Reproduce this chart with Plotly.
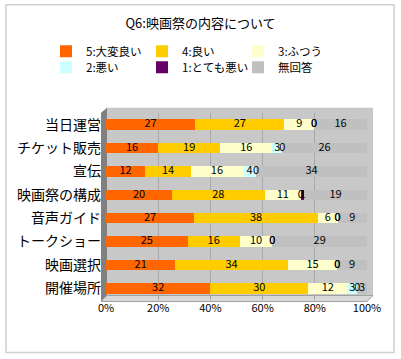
import plotly.graph_objects as go

categories = ["当日運営", "チケット販売", "宣伝", "映画祭の構成", "音声ガイド", "トークショー", "映画選択", "開催場所"]
series_names = ["5:大変良い", "4:良い", "3:ふつう", "2:悪い", "1:とても悪い", "無回答"]
v5 = [27, 16, 12, 20, 27, 25, 21, 32]
v4 = [27, 19, 14, 28, 38, 16, 34, 30]
v3 = [9, 16, 16, 11, 6, 10, 15, 12]
v2 = [0, 3, 4, 0, 0, 0, 0, 3]
v1 = [0, 0, 0, 1, 0, 0, 0, 0]
v0 = [16, 26, 34, 19, 9, 29, 9, 3]
colors = ["#FF6600", "#FFCC00", "#FFFFCC", "#CCFFFF", "#660066", "#C0C0C0"]
x_ticks = [0, 20, 40, 60, 80, 100]

FONT = "Noto Sans CJK JP"

# plot-area pixel geometry (for decorative shapes)
L, R, T, B = 106, 367, 113.3, 300.5
pw, ph = R - L, B - T
def px(x):
    return (x - L) / pw
def py(y):
    return (B - y) / ph

all_series = [v5, v4, v3, v2, v1, v0]
totals = [sum(s[i] for s in all_series) for i in range(len(categories))]

fig = go.Figure()
cum = [0] * len(categories)
for k, (name, vals, col) in enumerate(zip(series_names, all_series, colors)):
    fig.add_trace(go.Bar(
        y=categories, x=vals, name=name, orientation="h",
        marker=dict(color=col, line=dict(width=0)),
        legend="legend" if k < 3 else "legend2",
        hoverinfo="x+y+name",
    ))
    mids = [(cum[i] + vals[i] / 2) / totals[i] * 100 for i in range(len(categories))]
    fig.add_trace(go.Scatter(
        y=categories, x=mids, mode="text", text=[str(v) for v in vals],
        textposition="middle center", showlegend=False, hoverinfo="skip",
        textfont=dict(family=FONT, size=11, color="black"), cliponaxis=False,
    ))
    cum = [cum[i] + vals[i] for i in range(len(categories))]

shapes = []
# back wall
shapes.append(dict(type="rect", xref="paper", yref="paper", layer="below",
                   x0=px(106), x1=px(373), y0=py(296), y1=py(108),
                   fillcolor="#C8C8C8", line=dict(width=0)))
# left wall
shapes.append(dict(type="path", xref="paper", yref="paper", layer="below",
                   path=f"M {px(101)},{py(113)} L {px(107)},{py(108)} L {px(107)},{py(296)} L {px(101)},{py(302)} Z",
                   fillcolor="#808080", line=dict(width=0)))
# floor
shapes.append(dict(type="path", xref="paper", yref="paper", layer="below",
                   path=f"M {px(101)},{py(302)} L {px(107)},{py(296)} L {px(373)},{py(296)} L {px(367)},{py(302)} Z",
                   fillcolor="#D9D9D9", line=dict(color="#A0A0A0", width=1)))
# outer border
shapes.append(dict(type="rect", xref="paper", yref="paper", layer="below",
                   x0=px(6), x1=px(394), y0=py(353), y1=py(5),
                   fillcolor="rgba(0,0,0,0)", line=dict(color="#D0D0D0", width=1.5)))

legend_common = dict(orientation="h", xanchor="left", yanchor="top",
                     font=dict(family=FONT, size=11.5), traceorder="normal",
                     entrywidth=51, entrywidthmode="pixels", itemwidth=30,
                     bgcolor="rgba(0,0,0,0)")

fig.update_layout(
    width=401, height=359,
    margin=dict(l=L, r=401 - R, t=T, b=359 - B, autoexpand=False),
    barmode="stack", barnorm="percent", bargap=0.55,
    paper_bgcolor="white", plot_bgcolor="rgba(0,0,0,0)",
    font=dict(family=FONT, color="black"),
    title=dict(text="Q6:映画祭の内容について", x=0.5, xanchor="center",
               y=1 - 23 / 359, yanchor="middle", font=dict(family=FONT, size=13)),
    legend=dict(x=px(46), y=py(37), **legend_common),
    legend2=dict(x=px(46), y=py(53), **legend_common),
    xaxis=dict(range=[0, 100], tickvals=x_ticks, ticktext=[f"{t}%" for t in x_ticks],
               showgrid=True, gridcolor="#A8A8A8", gridwidth=1, zeroline=False,
               showline=False, ticks="", tickfont=dict(family=FONT, size=11)),
    yaxis=dict(categoryorder="array", categoryarray=categories, autorange="reversed",
               showgrid=False, zeroline=False, showline=False, ticks="",
               ticklabelstandoff=4, tickfont=dict(family=FONT, size=14)),
    shapes=shapes,
    showlegend=True,
)

fig.write_html("out.html", config={"displayModeBar": False},
               post_script="document.body.style.margin='0';")
